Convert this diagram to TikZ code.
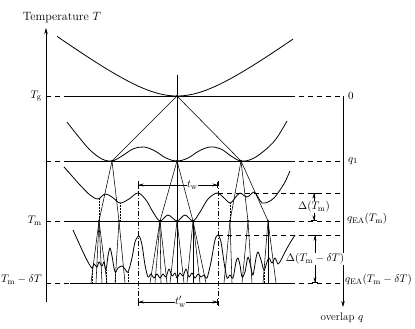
\documentclass[tikz,border=0pt]{standalone}
\usetikzlibrary{arrows.meta}
\begin{document}
\begin{tikzpicture}[x=1pt,y=-1pt,
  every node/.style={font=\fontsize{11}{13}\selectfont, inner sep=1pt},
  curve/.style={line width=0.8pt, line join=round},
  tree/.style={line width=0.55pt},
  lvl/.style={line width=0.6pt},
  lvldash/.style={line width=0.6pt, dash pattern=on 5pt off 4pt},
  dimline/.style={line width=0.55pt, arrows={{Bar[width=6pt]Stealth[length=5pt,width=3pt]}-{Stealth[length=5pt,width=3pt]Bar[width=6pt]}}},
  guide/.style={line width=0.55pt, dash pattern=on 5pt off 2pt on 1pt off 2pt},
  dotv/.style={line width=0.5pt, densely dotted},
  dot/.style={circle, fill, inner sep=0pt, minimum size=2.4pt},
  lab/.style={fill=white, inner sep=0.5pt}]
\useasboundingbox (0,0) rectangle (415,329);

% axes
\coordinate (yaxB) at (46,302);
\coordinate (yaxT) at (46,28);
\draw[line width=0.6pt,-{Stealth[length=6pt,width=3.5pt]}] (yaxB) -- (yaxT);
\node[font=\fontsize{12}{14}\selectfont] (Tlab) at (62,18) {Temperature $T$};
\coordinate (qaxT) at (343,96);
\coordinate (qaxB) at (343,307);
\draw[line width=0.6pt,-{Stealth[length=6pt,width=3.5pt]}] (qaxT) -- (qaxB);
\node (qlab) at (342,318) {overlap $q$};

% level lines
\foreach \y/\n/\s in {96/g/66, 161/one/66, 221/m/66, 283/b/70} {
  \coordinate (A\n) at (46,\y);
  \coordinate (B\n) at (\s,\y);
  \coordinate (C\n) at (290,\y);
  \coordinate (D\n) at (343,\y);
  \draw[lvldash] (A\n) -- (B\n);
  \draw[lvl] (B\n) -- (C\n);
  \draw[lvldash] (C\n) -- (D\n);
}

% axis labels
\node[anchor=east] (Tg) at (43,96) {$T_\mathrm{g}$};
\node[anchor=east] (Tm) at (43,221) {$T_\mathrm{m}$};
\node[anchor=east] (Tmd) at (43,280) {$T_\mathrm{m}-\delta T$};
\node[anchor=west] (q0) at (347,96) {$0$};
\node[anchor=west] (q1) at (347,161) {$q_1$};
\node[anchor=west] (qm) at (346,219) {$q_\mathrm{EA}(T_\mathrm{m})$};
\node[anchor=west] (qmd) at (344,280) {$q_\mathrm{EA}(T_\mathrm{m}-\delta T)$};

% free-energy curves
\draw[curve] plot[domain=57:293, samples=90] (\x, {96 - 37.3*(sqrt(1+((\x-177)/50)^2)-1)});

\draw[curve] plot[smooth, tension=0.6] coordinates {
 (67,122) (78,136) (90,150) (102,159) (112,161) (122,156) (133,149) (144,147)
 (155,151) (166,158) (177,161) (188,158) (199,151) (210,147) (221,149) (231,156)
 (241,161) (252,159) (264,151) (276,139) (287,121)};

\draw[curve] plot[smooth, tension=0.55] coordinates {
 (64,167) (72,176) (80,185) (90,195) (98,199) (105,194) (112,197) (120,203)
 (129,199) (138,193) (146,200) (153,212) (160,221) (168,215) (177,221) (185,215)
 (193,221) (200,212) (208,199) (217,193) (223,197) (230,203) (235,198) (240,193)
 (247,197) (254,192) (258,197) (262,203) (268,202) (274,198) (280,190) (285,182) (290,171)};

\draw[curve] plot[smooth, tension=0.5] coordinates {
 (73,230) (78,241) (83,252) (88,262) (92,268) (94,264) (97,267) (99,262) (102,266)
 (104,262) (106,270) (108,256) (110,248) (112,256) (115,272) (118,268) (122,266)
 (125,269) (128,272) (132,258) (135,242) (139,236) (142,245) (145,265) (148,277)
 (151,274) (154,278) (157,274) (160,278) (163,274) (166,277) (169,269) (172,276)
 (175,273) (177,278) (180,273) (183,276) (186,269) (189,277) (192,273) (195,278)
 (198,274) (201,277) (204,275) (207,278) (211,262) (215,240) (218,235) (221,242)
 (224,262) (227,278) (230,275) (233,278) (236,262) (238,258) (240,265) (242,277)
 (245,272) (248,257) (251,268) (253,275) (256,258) (258,252) (261,260) (264,270)
 (267,262) (269,258) (272,263) (275,258) (278,264) (281,260) (285,252) (290,243) (295,235)};

% tree
\coordinate (top) at (177,75);
\coordinate (root) at (177,96);
\coordinate (L) at (112,161);
\coordinate (M) at (177,161);
\coordinate (R) at (241,161);
\coordinate (L1) at (99,221);
\coordinate (L2) at (119,221);
\coordinate (M1) at (160,221);
\coordinate (M2) at (177,221);
\coordinate (M3) at (193,221);
\coordinate (R1) at (230,221);
\coordinate (R2) at (248,221);
\coordinate (R3) at (268,221);
\draw[tree] (top) -- (root);
\foreach \c in {L,M,R} \draw[tree] (root) -- (\c);
\foreach \c in {L1,L2} \draw[tree] (L) -- (\c);
\foreach \c in {M1,M2,M3} \draw[tree] (M) -- (\c);
\foreach \c in {R1,R2,R3} \draw[tree] (R) -- (\c);
\foreach \xx in {91,96,102,107} {\coordinate (L1-\xx) at (\xx,283); \draw[tree] (L1) -- (L1-\xx);}
\foreach \xx in {115,125} {\coordinate (L2-\xx) at (\xx,283); \draw[tree] (L2) -- (L2-\xx);}
\foreach \xx in {150,155,161,167} {\coordinate (M1-\xx) at (\xx,283); \draw[tree] (M1) -- (M1-\xx);}
\foreach \xx in {170,177,184} {\coordinate (M2-\xx) at (\xx,283); \draw[tree] (M2) -- (M2-\xx);}
\foreach \xx in {187,193,200,206} {\coordinate (M3-\xx) at (\xx,283); \draw[tree] (M3) -- (M3-\xx);}
\foreach \xx in {224,232} {\coordinate (R1-\xx) at (\xx,283); \draw[tree] (R1) -- (R1-\xx);}
\foreach \xx in {242,252} {\coordinate (R2-\xx) at (\xx,283); \draw[tree] (R2) -- (R2-\xx);}
\foreach \xx in {263,268,276} {\coordinate (R3-\xx) at (\xx,283); \draw[tree] (R3) -- (R3-\xx);}
\foreach \c in {root,L,M,R,L1,L2,M1,M2,M3,R1,R2,R3} \node[dot] (d\c) at (\c) {};

% dotted projections
\foreach \xa/\ya/\yb in {99/199/221, 120/203/221, 230/203/221, 92/268/283, 106/270/283, 115/272/283, 128/272/283, 264/270/283} {
  \coordinate (pa\xa) at (\xa,\ya); \coordinate (pb\xa) at (\xa,\yb);
  \draw[dotv] (pa\xa) -- (pb\xa);
}

% guides and waiting-time arrows
\coordinate (g1t) at (138,181); \coordinate (g1b) at (138,307);
\coordinate (g2t) at (218,181); \coordinate (g2b) at (218,307);
\draw[guide] (g1t) -- (g1b);
\draw[guide] (g2t) -- (g2b);
\coordinate (tw1) at (138,185); \coordinate (tw2) at (218,185);
\draw[dimline] (tw1) -- (tw2) node[lab, pos=0.68] (twlab) {$t_\mathrm{w}$};
\coordinate (tp1) at (138,302); \coordinate (tp2) at (218,302);
\draw[dimline] (tp1) -- (tp2) node[lab, pos=0.53] (tplab) {$t'_\mathrm{w}$};

% gaps
\coordinate (h1a) at (218,193); \coordinate (h1b) at (343,193);
\coordinate (h2a) at (218,235); \coordinate (h2b) at (343,235);
\draw[lvldash] (h1a) -- (h1b);
\draw[lvldash] (h2a) -- (h2b);
\coordinate (da1) at (314,193); \coordinate (da2) at (314,221);
\draw[dimline] (da1) -- (da2) node[lab, midway] (dalab) {$\Delta(T_\mathrm{m})$};
\coordinate (db1) at (315,235); \coordinate (db2) at (315,283);
\draw[dimline] (db1) -- (db2) node[lab, midway] (dblab) {$\Delta(T_\mathrm{m}-\delta T)$};
\end{tikzpicture}
\end{document}
